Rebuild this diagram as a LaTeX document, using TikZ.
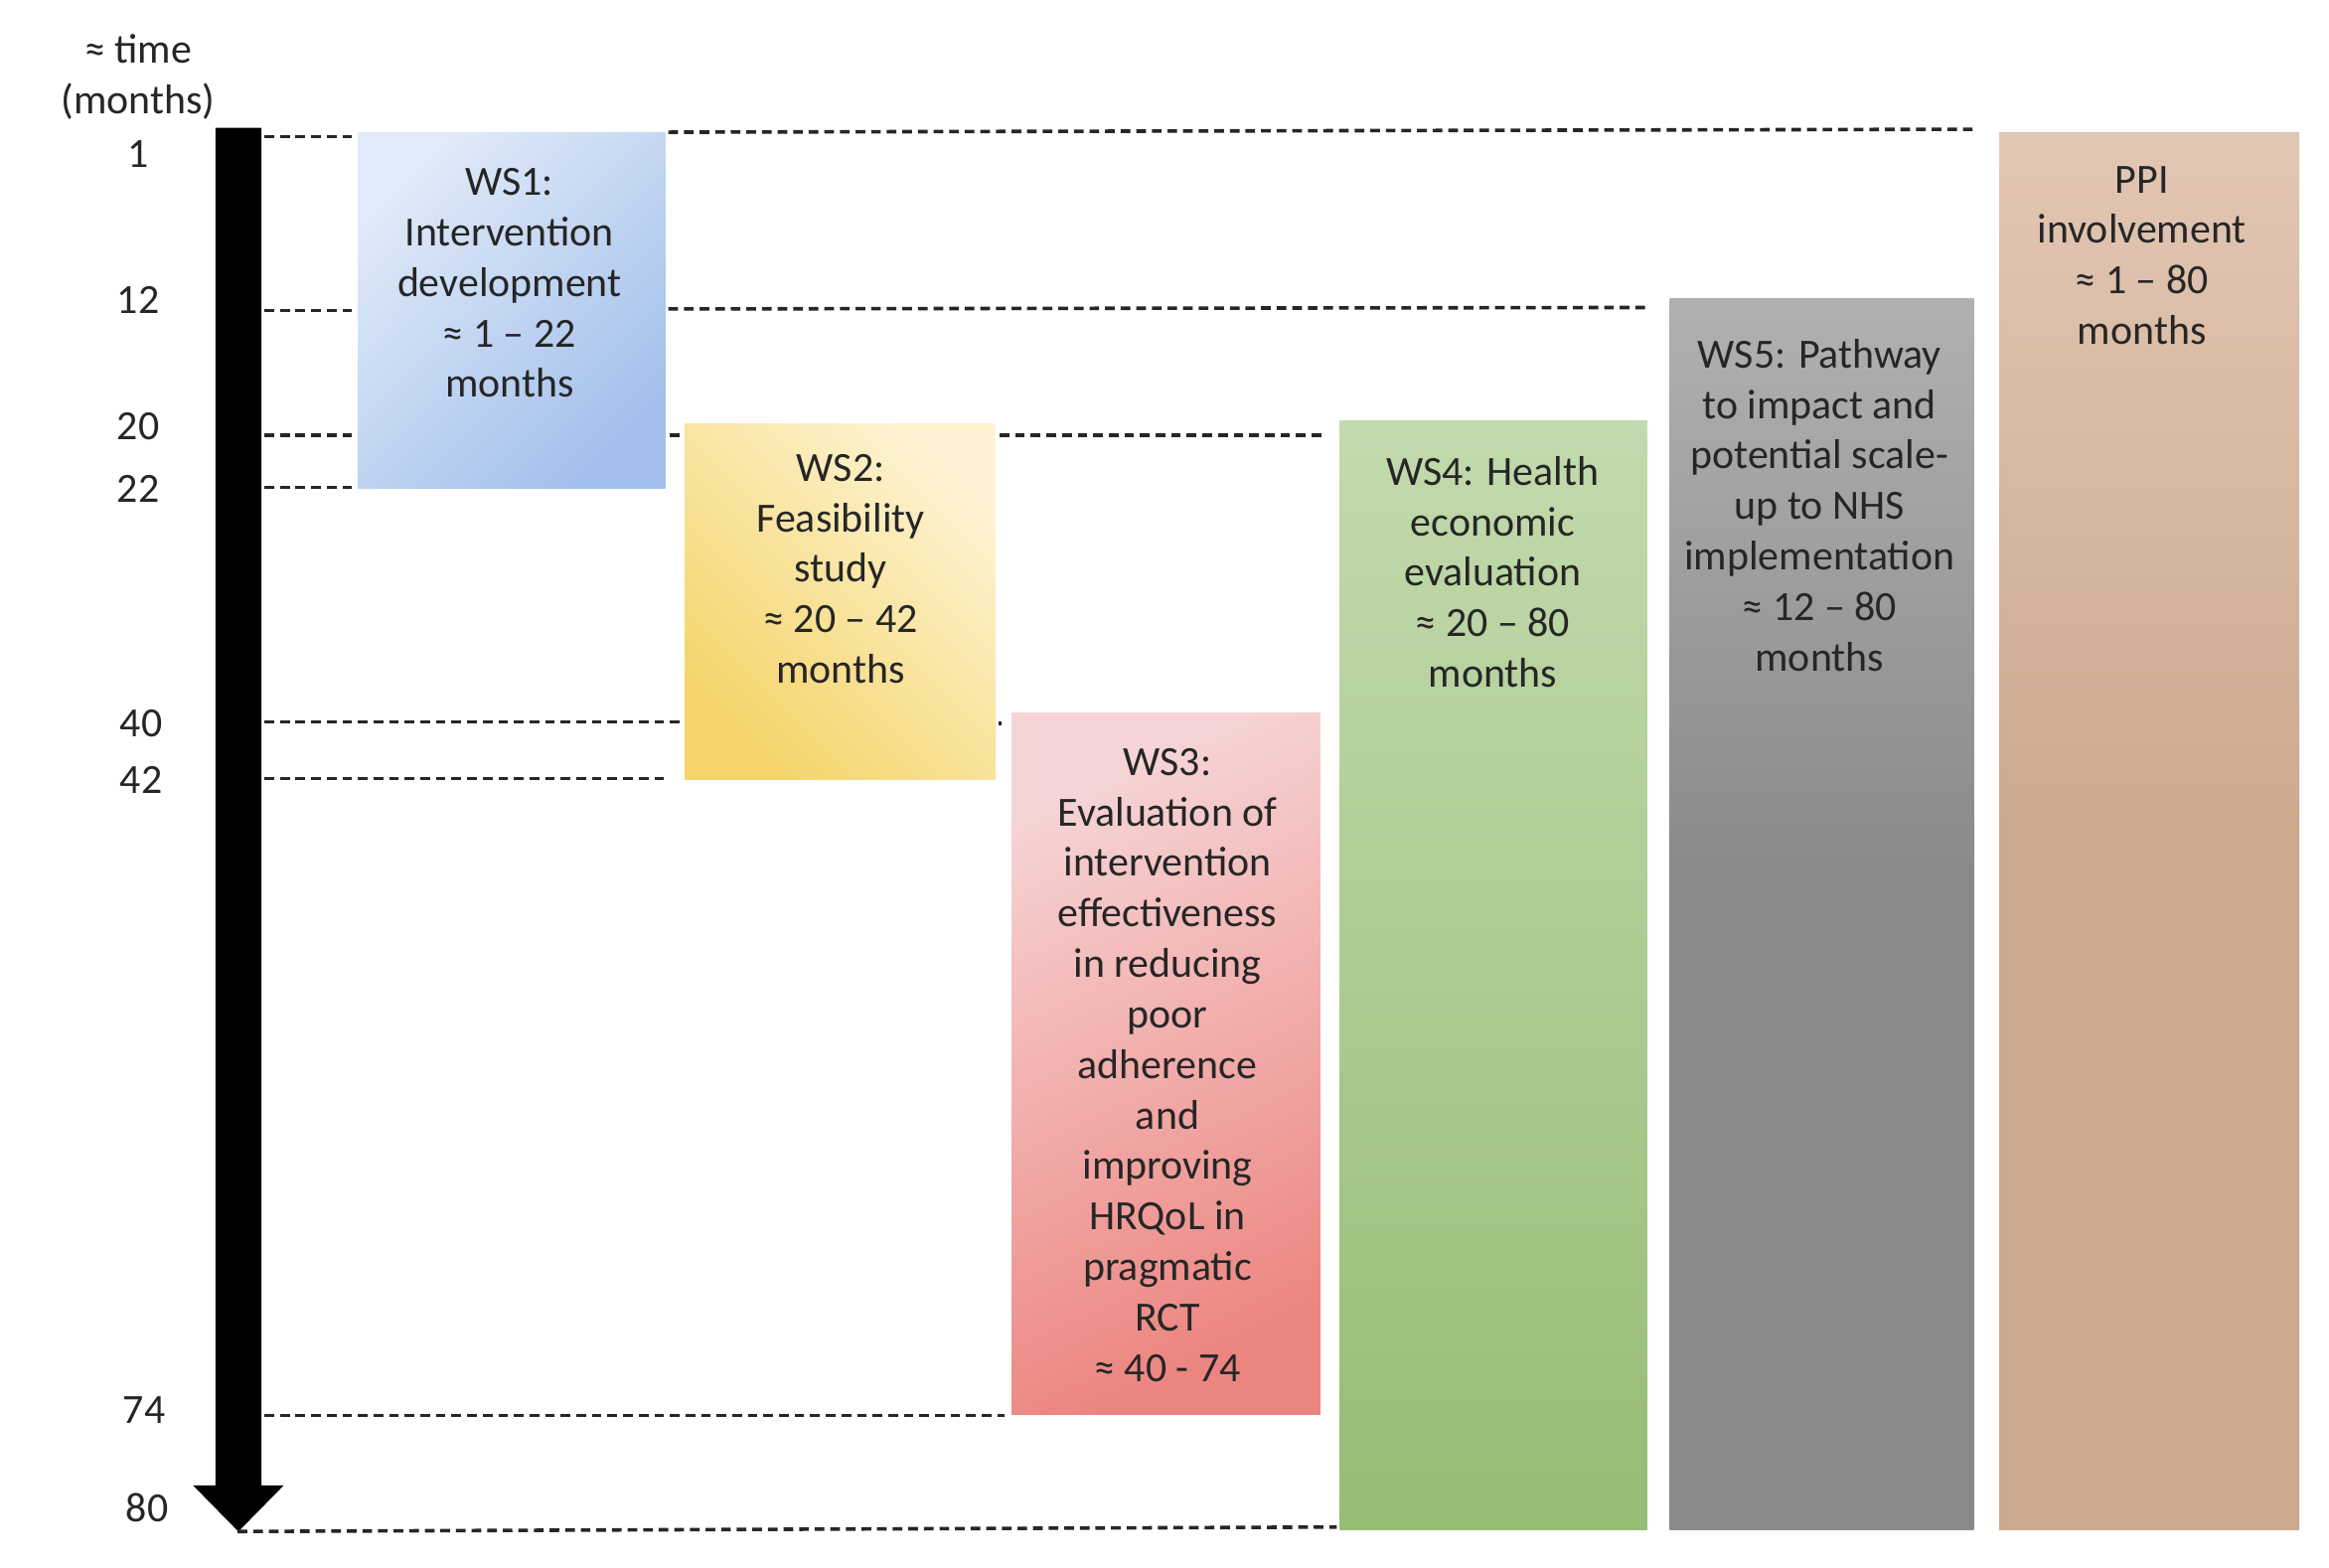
\documentclass[tikz,border=0pt]{standalone}
\usepackage{fontspec}
\setmainfont{Carlito}
\definecolor{txt}{HTML}{262626}
\definecolor{ws1a}{HTML}{E0EAF8}
\definecolor{ws1b}{HTML}{A3C0EC}
\definecolor{ws2a}{HTML}{FDF3D2}
\definecolor{ws2b}{HTML}{F5D46A}
\definecolor{ws3a}{HTML}{F6D4D5}
\definecolor{ws3b}{HTML}{EC8580}
\definecolor{ws4a}{HTML}{D8E9CA}
\definecolor{ws4m}{HTML}{A3C585}
\definecolor{ws4b}{HTML}{80AD5A}
\definecolor{ws5a}{HTML}{DADADA}
\definecolor{ws5b}{HTML}{8A8A8A}
\definecolor{ppia}{HTML}{F6E4D9}
\definecolor{ppib}{HTML}{CDA98E}
\pgfdeclareverticalshading{ws5shade}{100bp}{color(0bp)=(ws5b); color(52bp)=(ws5b); color(100bp)=(ws5a)}
\pgfdeclareverticalshading{ppishade}{100bp}{color(0bp)=(ppib); color(50bp)=(ppib); color(100bp)=(ppia)}
\pgfdeclareverticalshading{ws4shade}{100bp}{color(0bp)=(ws4b); color(40bp)=(ws4m); color(100bp)=(ws4a)}
\begin{document}
\begin{tikzpicture}[x=1pt,y=-1pt,
  guide/.style={draw=black!85, line width=2.4pt, dash pattern=on 6.5pt off 4pt},
  box/.style={rectangle, inner sep=0pt, outer sep=0pt, anchor=north west, draw=none},
  lbl/.style={align=center, text=txt, font=\fontsize{28}{34}\selectfont, inner sep=0pt},
  tick/.style={text=txt, font=\fontsize{28}{34}\selectfont, inner sep=0pt}]
\useasboundingbox (0,0) rectangle (1568,1055);
\fill[white] (0,0) rectangle (1568,1055);

% boxes
\node[box, minimum width=207pt, minimum height=240pt, top color=ws1a, bottom color=ws1b, shading angle=45] (ws1) at (241,89) {};
\node[box, minimum width=209pt, minimum height=240pt, top color=ws2a, bottom color=ws2b, shading angle=-45] (ws2) at (461,285) {};
\node[box, minimum width=208pt, minimum height=472pt, top color=ws3a, bottom color=ws3b, shading angle=25] (ws3) at (681,480) {};
\node[box, minimum width=207pt, minimum height=747pt, shading=ws4shade] (ws4) at (902,283) {};
\node[box, minimum width=205pt, minimum height=829pt, shading=ws5shade] (ws5) at (1124,201) {};
\node[box, minimum width=202pt, minimum height=941pt, shading=ppishade] (ppi) at (1346,89) {};

% box texts
\node[lbl] (t1) at (343,190.5) {WS1:\\Intervention\\development\\≈ 1 – 22\\months};
\node[lbl] (t2) at (566,383) {WS2:\\Feasibility\\study\\≈ 20 – 42\\months};
\node[lbl] (t3) at (786,717) {WS3:\\Evaluation of\\intervention\\effectiveness\\in reducing\\poor\\adherence\\and\\improving\\HRQoL in\\pragmatic\\RCT\\≈ 40 - 74};
\node[lbl] (t4) at (1005,385) {WS4: Health\\economic\\evaluation\\≈ 20 – 80\\months};
\node[lbl] (t5) at (1225,340) {WS5: Pathway\\to impact and\\potential scale-\\up to NHS\\implementation\\≈ 12 – 80\\months};
\node[lbl] (t6) at (1442,172) {PPI\\involvement\\≈ 1 – 80\\months};

% time axis
\fill[black] (145,86) -- (176,86) -- (176,1000) -- (191,1000) -- (160.5,1031) -- (130,1000) -- (145,1000) -- cycle;
\node[lbl] (head) at (93,52) {≈ time\\(months)};
\node[tick] (m1) at (93,104) {1};
\node[tick] (m12) at (93,202) {12};
\node[tick] (m20) at (93,287) {20};
\node[tick] (m22) at (93,329) {22};
\node[tick] (m40) at (95,487) {40};
\node[tick] (m42) at (95,525) {42};
\node[tick] (m74) at (97,949) {74};
\node[tick] (m80) at (99,1015) {80};

% guide lines
\draw[guide] (178,92) -- (240,92);
\draw[guide] (450,89) -- (1330,87);
\draw[guide] (178,209) -- (240,209);
\draw[guide] (450,208) -- (1110,207);
\draw[guide] (178,293) -- (240,293);
\draw[guide] (451,293) -- (459,293);
\draw[guide] (673,293) -- (892,293);
\draw[guide] (178,328) -- (240,328);
\draw[guide] (178,486) -- (461,486);
\draw[guide] (672,487) -- (674,487);
\draw[guide] (178,524) -- (450,524);
\draw[guide] (178,953) -- (676,953);
\draw[guide] (160,1031) -- (900,1028);
\end{tikzpicture}
\end{document}
